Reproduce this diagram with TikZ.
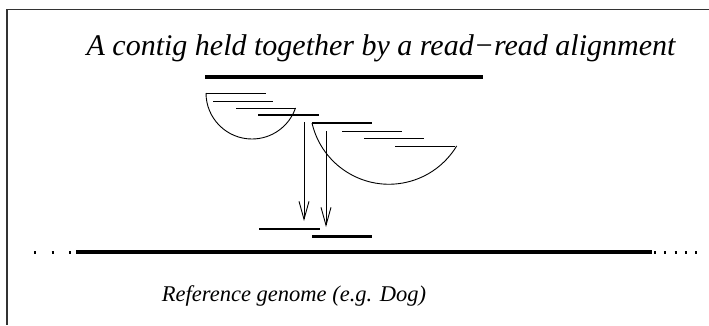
\documentclass[tikz,border=0pt]{standalone}
\usepackage{fontspec}
\setmainfont{Liberation Serif}
\usetikzlibrary{arrows.meta}
\begin{document}
\begin{tikzpicture}[x=1pt,y=-1pt,
  thickline/.style={line width=4pt},
  keyread/.style={line width=2.2pt},
  thinread/.style={line width=0.9pt},
  bowl/.style={line width=0.9pt},
  alignarrow/.style={line width=0.9pt,-{Straight Barb[length=18pt,width=10pt,line width=0.9pt]}},
  titlelbl/.style={font=\itshape\fontsize{30}{34}\selectfont, inner sep=0pt},
  lbl/.style={font=\itshape\fontsize{22.5}{26}\selectfont, inner sep=0pt}]
\useasboundingbox (0,0) rectangle (709,325);
% frame (top and left only)
\draw[line width=1.6pt, black!80] (709,9.5) -- (7,9.5) -- (7,325);
% title
\node[titlelbl, anchor=base] (title) at (381,55.5) {A contig held together by a read−read alignment};
% contig
\draw[thickline] (205,77) -- (483,77);
% left group of reads
\draw[thinread] (206,93) -- (266,93);
\draw[thinread] (213,101) -- (273,101);
\draw[thinread] (236,108) -- (296,108);
\draw[keyread] (258,115) -- (319,115);
\draw[bowl] (206,93) arc[start angle=180, end angle=19, radius=46];
% right group of reads
\draw[keyread] (312,123) -- (372,123);
\draw[thinread] (342,131) -- (402,131);
\draw[thinread] (364,138) -- (424,138);
\draw[thinread] (395,146) -- (455,146);
\draw[bowl] (312,123) arc[start angle=167, end angle=31, radius=79];
% placed reads on reference
\draw[keyread] (259,229) -- (320,229);
\draw[keyread] (312,236.5) -- (372,236.5);
% arrows
\coordinate (a1s) at (304,122);
\coordinate (a1e) at (304,221);
\coordinate (a2s) at (326,131);
\coordinate (a2e) at (326,227);
\draw[alignarrow] (a1s) -- (a1e);
\draw[alignarrow] (a2s) -- (a2e);
% reference genome
\draw[line width=3.5pt] (76,252) -- (652,252);
\draw[line width=3pt, dash pattern=on 2pt off 15.7pt] (34,252) -- (74,252);
\draw[line width=3pt, dash pattern=on 2pt off 8.3pt] (654,252) -- (700,252);
\node[lbl] (ref) at (294,296) {Reference genome (e.g. Dog)};
\end{tikzpicture}
\end{document}
